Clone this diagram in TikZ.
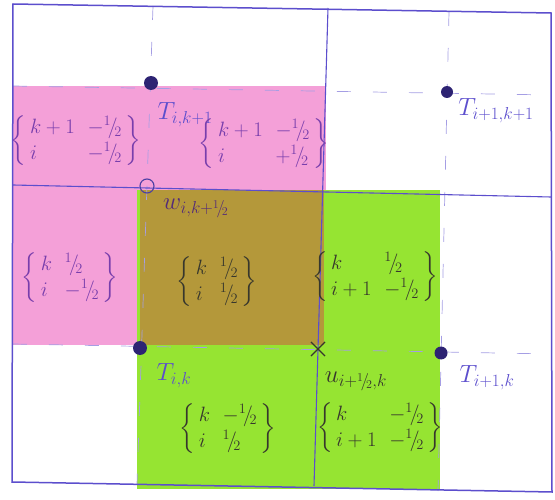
\documentclass[tikz,border=0pt]{standalone}
\usepackage{amsmath}
\definecolor{pinkhl}{RGB}{244,160,216}
\definecolor{greenhl}{RGB}{150,228,50}
\definecolor{olivehl}{RGB}{180,152,58}
\definecolor{penblue}{RGB}{92,78,205}
\definecolor{inkpurple}{RGB}{120,62,172}
\definecolor{inkdark}{RGB}{55,55,45}
\definecolor{dotblue}{RGB}{45,35,115}
\newcommand{\hf}{{}^{1}\!/\!_{2}}
\newcommand{\bmat}[4]{$\left\{\renewcommand{\arraystretch}{1.1}\begin{array}{@{\,}l@{\hspace{0.6em}}l@{\,}}#1 & #2\\ #3 & #4\end{array}\right\}$}
\tikzset{
  border/.style={draw=penblue, line width=1.5pt},
  gridline/.style={draw=penblue, line width=1.1pt},
  faint/.style={draw=penblue!55, line width=0.7pt, dash pattern=on 14pt off 22pt},
  pt/.style={circle, fill=dotblue, inner sep=0pt, minimum size=14pt},
  opencirc/.style={circle, draw=penblue!80!black, line width=1.1pt, inner sep=0pt, minimum size=14pt},
  xmark/.style={cross out, draw=inkdark, line width=1.1pt, inner sep=0pt, minimum size=13pt},
  mlab/.style={inner sep=0pt, font=\fontsize{21}{24}\selectfont},
  tlab/.style={inner sep=0pt, text=penblue, font=\fontsize{23}{26}\selectfont}
}
\usetikzlibrary{shapes.misc}
\begin{document}
\begin{tikzpicture}[x=1pt,y=-1pt]
\useasboundingbox (0,0) rectangle (555,500);
% highlighter areas
\fill[pinkhl] (13,86) rectangle (326,345);
\fill[greenhl] (137,190) rectangle (440,489);
\fill[olivehl] (140,190) rectangle (324,345);
% corners of the frame
\coordinate (tl) at (13,4);
\coordinate (tr) at (551,13);
\coordinate (br) at (552,492);
\coordinate (bl) at (12,482);
% dashed lines through the T points
\coordinate (d1a) at (13,86);  \coordinate (d1b) at (551,95);
\coordinate (d2a) at (13,344); \coordinate (d2b) at (551,354);
\coordinate (d3a) at (153,6);  \coordinate (d3b) at (137,484);
\coordinate (d4a) at (449,12); \coordinate (d4b) at (438,491);
\draw[faint] (d1a) -- (d1b);
\draw[faint] (d2a) -- (d2b);
\draw[faint] (d3a) -- (d3b);
\draw[faint] (d4a) -- (d4b);
% solid grid lines
\coordinate (h1a) at (13,185); \coordinate (h1b) at (551,197);
\coordinate (v1a) at (328,8);  \coordinate (v1b) at (314,486);
\draw[gridline] (h1a) -- (h1b);
\draw[gridline] (v1a) -- (v1b);
\draw[border] (tl) -- (tr) -- (br) -- (bl) -- cycle;
% points
\node[pt] (Tik1) at (151,83) {};
\node[pt,minimum size=12pt] (Ti1k1) at (447,92) {};
\node[pt] (Tik) at (140,348) {};
\node[pt,minimum size=13pt] (Ti1k) at (441,353) {};
\node[opencirc] (w) at (147,186) {};
\node[xmark] (u) at (318,349) {};
% point labels
\node[tlab] (lTik1) at (185,115) {$T_{i,k+1}$};
\node[tlab] (lTi1k1) at (496,111) {$T_{i+1,k+1}$};
\node[tlab] (lTik) at (174,376) {$T_{i,k}$};
\node[tlab] (lTi1k) at (487,378) {$T_{i+1,k}$};
\node[tlab, text=inkpurple!70!black] (lw) at (196,208) {$w_{i,k+\hf}$};
\node[tlab, text=inkdark] (lu) at (356,381) {$u_{i+\hf,k}$};
% index labels
\node[mlab, text=inkpurple] (m1) at (76,141) {\bmat{k+1}{-\hf}{i}{-\hf}};
\node[mlab, text=inkpurple] (m2) at (264,144) {\bmat{k+1}{-\hf}{i}{+\hf}};
\node[mlab, text=inkpurple] (m3) at (70,278) {\bmat{k}{\hf}{i}{-\hf}};
\node[mlab, text=inkdark] (m4) at (217,282) {\bmat{k}{\hf}{i}{\hf}};
\node[mlab, text=inkdark] (m5) at (375,277) {\bmat{k}{\hf}{i+1}{-\hf}};
\node[mlab, text=inkdark] (m6) at (228,429) {\bmat{k}{-\hf}{i}{\hf}};
\node[mlab, text=inkdark] (m7) at (380,428) {\bmat{k}{-\hf}{i+1}{-\hf}};
\end{tikzpicture}
\end{document}
